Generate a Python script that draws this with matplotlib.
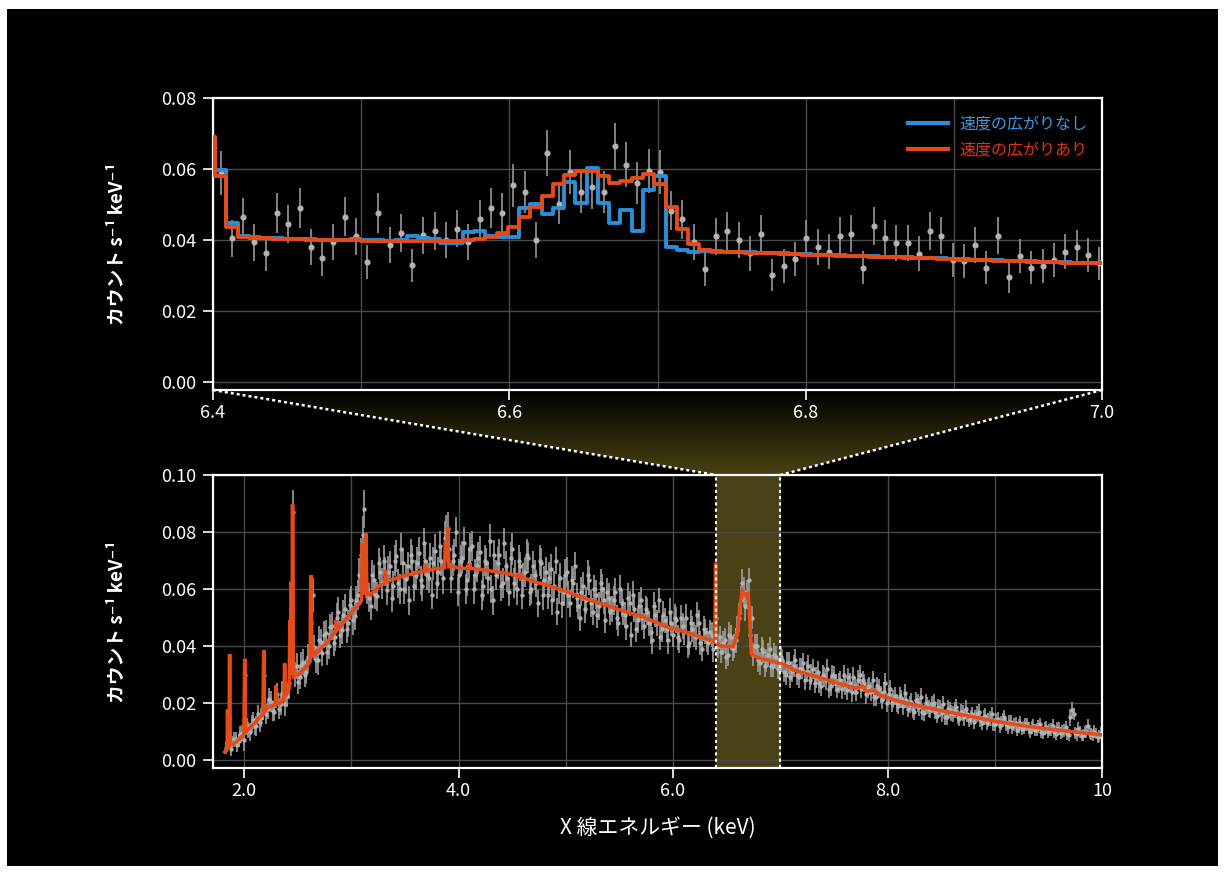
import numpy as np
import matplotlib
matplotlib.use("Agg")
import matplotlib.pyplot as plt
from matplotlib.patches import Rectangle, Polygon
from matplotlib.lines import Line2D
from matplotlib.ticker import FixedLocator, MultipleLocator
from matplotlib.colors import LinearSegmentedColormap

plt.rcParams['font.family'] = ['Noto Sans CJK JP', 'DejaVu Sans']

# ---------------- DATA: top panel (6.4-7.0 keV zoom) ----------------
top_energy = [
    6.4052, 6.4128, 6.4204, 6.4280, 6.4356, 6.4432, 6.4508, 6.4584, 6.4660, 6.4736,
    6.4812, 6.4888, 6.4964, 6.5040, 6.5116, 6.5192, 6.5268, 6.5344, 6.5420, 6.5496,
    6.5572, 6.5648, 6.5724, 6.5800, 6.5876, 6.5952, 6.6028, 6.6104, 6.6180, 6.6256,
    6.6332, 6.6408, 6.6484, 6.6560, 6.6636, 6.6712, 6.6788, 6.6864, 6.6940, 6.7016,
    6.7092, 6.7168, 6.7244, 6.7320, 6.7396, 6.7472, 6.7548, 6.7624, 6.7700, 6.7776,
    6.7852, 6.7928, 6.8004, 6.8080, 6.8156, 6.8232, 6.8308, 6.8384, 6.8460, 6.8536,
    6.8612, 6.8688, 6.8764, 6.8840, 6.8916, 6.8992, 6.9068, 6.9144, 6.9220, 6.9296,
    6.9372, 6.9448, 6.9524, 6.9600, 6.9676, 6.9752, 6.9828, 6.9904, 6.9980]
top_counts = [
    0.0589, 0.0405, 0.0464, 0.0393, 0.0363, 0.0477, 0.0445, 0.0490, 0.0381, 0.0348,
    0.0394, 0.0465, 0.0410, 0.0338, 0.0477, 0.0386, 0.0419, 0.0329, 0.0413, 0.0425,
    0.0400, 0.0432, 0.0395, 0.0458, 0.0490, 0.0476, 0.0554, 0.0535, 0.0399, 0.0644,
    0.0502, 0.0592, 0.0534, 0.0548, 0.0535, 0.0664, 0.0612, 0.0561, 0.0593, 0.0592,
    0.0483, 0.0459, 0.0394, 0.0317, 0.0411, 0.0425, 0.0399, 0.0362, 0.0418, 0.0301,
    0.0327, 0.0347, 0.0405, 0.0380, 0.0367, 0.0412, 0.0418, 0.0322, 0.0439, 0.0405,
    0.0392, 0.0392, 0.0361, 0.0425, 0.0412, 0.0343, 0.0341, 0.0386, 0.0322, 0.0412,
    0.0295, 0.0354, 0.0322, 0.0327, 0.0343, 0.0367, 0.0379, 0.0358, 0.0334]
top_err = [
    0.0062, 0.0052, 0.0055, 0.0051, 0.0049, 0.0056, 0.0054, 0.0057, 0.0050, 0.0048,
    0.0051, 0.0055, 0.0052, 0.0047, 0.0056, 0.0051, 0.0053, 0.0046, 0.0052, 0.0053,
    0.0051, 0.0053, 0.0051, 0.0055, 0.0057, 0.0056, 0.0060, 0.0059, 0.0051, 0.0065,
    0.0057, 0.0062, 0.0059, 0.0060, 0.0059, 0.0066, 0.0063, 0.0060, 0.0062, 0.0062,
    0.0056, 0.0055, 0.0051, 0.0046, 0.0052, 0.0053, 0.0051, 0.0049, 0.0052, 0.0045,
    0.0047, 0.0048, 0.0051, 0.0050, 0.0049, 0.0052, 0.0052, 0.0046, 0.0053, 0.0051,
    0.0050, 0.0050, 0.0049, 0.0053, 0.0052, 0.0048, 0.0048, 0.0050, 0.0046, 0.0052,
    0.0044, 0.0048, 0.0046, 0.0047, 0.0048, 0.0049, 0.0050, 0.0049, 0.0047]

# model bin centres: one bin before 6.4 and one after 7.0 added
top_model_energy = [6.3976] + top_energy + [7.0056]
model_broad = [
    0.0690,
    0.0579, 0.0438, 0.0408, 0.0406, 0.0405, 0.0404, 0.0403, 0.0402, 0.0401, 0.0400,
    0.0400, 0.0399, 0.0399, 0.0398, 0.0397, 0.0396, 0.0396, 0.0396, 0.0396, 0.0396,
    0.0397, 0.0398, 0.0400, 0.0403, 0.0409, 0.0419, 0.0438, 0.0466, 0.0494, 0.0525,
    0.0558, 0.0584, 0.0594, 0.0594, 0.0581, 0.0560, 0.0565, 0.0575, 0.0587, 0.0558,
    0.0494, 0.0430, 0.0389, 0.0372, 0.0367, 0.0366, 0.0365, 0.0364, 0.0363, 0.0362,
    0.0361, 0.0360, 0.0359, 0.0358, 0.0357, 0.0356, 0.0355, 0.0354, 0.0353, 0.0352,
    0.0351, 0.0350, 0.0349, 0.0348, 0.0347, 0.0346, 0.0345, 0.0344, 0.0343, 0.0342,
    0.0341, 0.0340, 0.0339, 0.0338, 0.0337, 0.0336, 0.0335, 0.0334, 0.0334,
    0.0333]
model_narrow = [
    0.0690,
    0.0597, 0.0447, 0.0410, 0.0408, 0.0406, 0.0405, 0.0404, 0.0403, 0.0402, 0.0401,
    0.0401, 0.0401, 0.0402, 0.0401, 0.0399, 0.0398, 0.0399, 0.0410, 0.0406, 0.0404,
    0.0392, 0.0392, 0.0423, 0.0425, 0.0410, 0.0409, 0.0409, 0.0491, 0.0501, 0.0474,
    0.0490, 0.0562, 0.0504, 0.0603, 0.0504, 0.0447, 0.0485, 0.0424, 0.0542, 0.0579,
    0.0381, 0.0372, 0.0367, 0.0370, 0.0368, 0.0367, 0.0366, 0.0365, 0.0364, 0.0363,
    0.0362, 0.0361, 0.0360, 0.0359, 0.0358, 0.0357, 0.0356, 0.0355, 0.0354, 0.0353,
    0.0352, 0.0351, 0.0350, 0.0349, 0.0348, 0.0347, 0.0346, 0.0345, 0.0344, 0.0343,
    0.0342, 0.0341, 0.0340, 0.0339, 0.0338, 0.0337, 0.0336, 0.0335, 0.0335,
    0.0334]
legend_labels = ['速度の広がりなし', '速度の広がりあり']

# ---------------- DATA: bottom panel (full band), two interleaved bin sets ----------------
bot_energy = [
    1.83, 1.86, 1.89, 1.92, 1.95, 1.98, 2.01, 2.04, 2.07, 2.10,
    2.13, 2.16, 2.19, 2.22, 2.25, 2.28, 2.31, 2.34, 2.37, 2.40,
    2.43, 2.46, 2.49, 2.52, 2.55, 2.58, 2.61, 2.64, 2.67, 2.70,
    2.73, 2.76, 2.79, 2.82, 2.85, 2.88, 2.91, 2.94, 2.97, 3.00,
    3.03, 3.06, 3.09, 3.12, 3.15, 3.18, 3.21, 3.24, 3.27, 3.30,
    3.33, 3.36, 3.39, 3.42, 3.45, 3.48, 3.51, 3.54, 3.57, 3.60,
    3.63, 3.66, 3.69, 3.72, 3.75, 3.78, 3.81, 3.84, 3.87, 3.90,
    3.93, 3.96, 3.99, 4.02, 4.05, 4.08, 4.11, 4.14, 4.17, 4.20,
    4.23, 4.26, 4.29, 4.32, 4.35, 4.38, 4.41, 4.44, 4.47, 4.50,
    4.53, 4.56, 4.59, 4.62, 4.65, 4.68, 4.71, 4.74, 4.77, 4.80,
    4.83, 4.86, 4.89, 4.92, 4.95, 4.98, 5.01, 5.04, 5.07, 5.10,
    5.13, 5.16, 5.19, 5.22, 5.25, 5.28, 5.31, 5.34, 5.37, 5.40,
    5.43, 5.46, 5.49, 5.52, 5.55, 5.58, 5.61, 5.64, 5.67, 5.70,
    5.73, 5.76, 5.79, 5.82, 5.85, 5.88, 5.91, 5.94, 5.97, 6.00,
    6.03, 6.06, 6.09, 6.12, 6.15, 6.18, 6.21, 6.24, 6.27, 6.30,
    6.33, 6.36, 6.39, 6.42, 6.45, 6.48, 6.51, 6.54, 6.57, 6.60,
    6.63, 6.66, 6.69, 6.72, 6.75, 6.78, 6.81, 6.84, 6.87, 6.90,
    6.93, 6.96, 6.99, 7.02, 7.05, 7.08, 7.11, 7.14, 7.17, 7.20,
    7.23, 7.26, 7.29, 7.32, 7.35, 7.38, 7.41, 7.44, 7.47, 7.50,
    7.53, 7.56, 7.59, 7.62, 7.65, 7.68, 7.71, 7.74, 7.77, 7.80,
    7.83, 7.86, 7.89, 7.92, 7.95, 7.98, 8.01, 8.04, 8.07, 8.10,
    8.13, 8.16, 8.19, 8.22, 8.25, 8.28, 8.31, 8.34, 8.37, 8.40,
    8.43, 8.46, 8.49, 8.52, 8.55, 8.58, 8.61, 8.64, 8.67, 8.70,
    8.73, 8.76, 8.79, 8.82, 8.85, 8.88, 8.91, 8.94, 8.97, 9.00,
    9.03, 9.06, 9.09, 9.12, 9.15, 9.18, 9.21, 9.24, 9.27, 9.30,
    9.33, 9.36, 9.39, 9.42, 9.45, 9.48, 9.51, 9.54, 9.57, 9.60,
    9.63, 9.66, 9.69, 9.72, 9.75, 9.78, 9.81, 9.84, 9.87, 9.90,
    9.93, 9.96, 9.99]
bot_counts = [
    0.0042, 0.0150, 0.0060, 0.0075, 0.0068, 0.0095, 0.0300, 0.0105, 0.0128, 0.0118,
    0.0160, 0.0148, 0.0300, 0.0178, 0.0205, 0.0170, 0.0230, 0.0195, 0.0260, 0.0225,
    0.0480, 0.0870, 0.0330, 0.0290, 0.0345, 0.0310, 0.0400, 0.0580, 0.0350, 0.0420,
    0.0375, 0.0445, 0.0400, 0.0470, 0.0430, 0.0520, 0.0455, 0.0530, 0.0480, 0.0560,
    0.0505, 0.0580, 0.0720, 0.0880, 0.0600, 0.0540, 0.0630, 0.0575, 0.0660, 0.0700,
    0.0595, 0.0680, 0.0610, 0.0715, 0.0600, 0.0690, 0.0635, 0.0560, 0.0700, 0.0650,
    0.0725, 0.0610, 0.0700, 0.0640, 0.0580, 0.0735, 0.0660, 0.0700, 0.0780, 0.0810,
    0.0640, 0.0720, 0.0590, 0.0700, 0.0760, 0.0630, 0.0740, 0.0600, 0.0680, 0.0730,
    0.0610, 0.0690, 0.0770, 0.0560, 0.0650, 0.0720, 0.0620, 0.0680, 0.0590, 0.0740,
    0.0650, 0.0700, 0.0580, 0.0660, 0.0710, 0.0600, 0.0650, 0.0550, 0.0690, 0.0630,
    0.0580, 0.0670, 0.0610, 0.0520, 0.0640, 0.0590, 0.0660, 0.0550, 0.0620, 0.0570,
    0.0500, 0.0610, 0.0560, 0.0630, 0.0520, 0.0580, 0.0540, 0.0600, 0.0490, 0.0570,
    0.0530, 0.0590, 0.0480, 0.0550, 0.0510, 0.0570, 0.0440, 0.0530, 0.0490, 0.0560,
    0.0470, 0.0520, 0.0450, 0.0540, 0.0480, 0.0430, 0.0510, 0.0460, 0.0520, 0.0440,
    0.0490, 0.0420, 0.0470, 0.0500, 0.0410, 0.0460, 0.0430, 0.0480, 0.0390, 0.0450,
    0.0410, 0.0440, 0.0470, 0.0400, 0.0380, 0.0420, 0.0370, 0.0430, 0.0400, 0.0460,
    0.0560, 0.0590, 0.0580, 0.0440, 0.0370, 0.0400, 0.0340, 0.0380, 0.0350, 0.0390,
    0.0330, 0.0360, 0.0320, 0.0350, 0.0300, 0.0340, 0.0310, 0.0350, 0.0290, 0.0320,
    0.0280, 0.0330, 0.0300, 0.0270, 0.0310, 0.0260, 0.0290, 0.0320, 0.0260, 0.0295,
    0.0250, 0.0280, 0.0300, 0.0245, 0.0270, 0.0290, 0.0240, 0.0300, 0.0280, 0.0230,
    0.0260, 0.0280, 0.0220, 0.0250, 0.0210, 0.0270, 0.0230, 0.0200, 0.0225, 0.0190,
    0.0215, 0.0235, 0.0180, 0.0205, 0.0170, 0.0200, 0.0220, 0.0165, 0.0190, 0.0175,
    0.0200, 0.0155, 0.0180, 0.0195, 0.0150, 0.0175, 0.0160, 0.0185, 0.0145, 0.0165,
    0.0180, 0.0140, 0.0160, 0.0150, 0.0170, 0.0130, 0.0155, 0.0140, 0.0160, 0.0125,
    0.0145, 0.0130, 0.0150, 0.0115, 0.0135, 0.0125, 0.0105, 0.0130, 0.0115, 0.0125,
    0.0100, 0.0120, 0.0108, 0.0125, 0.0095, 0.0115, 0.0105, 0.0120, 0.0090, 0.0110,
    0.0100, 0.0115, 0.0088, 0.0175, 0.0095, 0.0110, 0.0085, 0.0098, 0.0120, 0.0090,
    0.0100, 0.0080, 0.0095]
bot_err = [
    0.0020, 0.0033, 0.0023, 0.0025, 0.0024, 0.0028, 0.0037, 0.0029, 0.0031, 0.0030,
    0.0034, 0.0033, 0.0044, 0.0035, 0.0037, 0.0034, 0.0040, 0.0037, 0.0042, 0.0040,
    0.0055, 0.0079, 0.0044, 0.0042, 0.0045, 0.0043, 0.0048, 0.0059, 0.0045, 0.0050,
    0.0044, 0.0047, 0.0045, 0.0048, 0.0046, 0.0051, 0.0047, 0.0051, 0.0048, 0.0052,
    0.0050, 0.0052, 0.0059, 0.0066, 0.0052, 0.0050, 0.0053, 0.0051, 0.0054, 0.0055,
    0.0051, 0.0055, 0.0052, 0.0056, 0.0051, 0.0055, 0.0053, 0.0050, 0.0055, 0.0053,
    0.0056, 0.0052, 0.0055, 0.0053, 0.0051, 0.0057, 0.0054, 0.0055, 0.0058, 0.0061,
    0.0053, 0.0056, 0.0051, 0.0055, 0.0057, 0.0053, 0.0056, 0.0052, 0.0054, 0.0056,
    0.0052, 0.0055, 0.0058, 0.0050, 0.0053, 0.0056, 0.0052, 0.0054, 0.0051, 0.0056,
    0.0053, 0.0055, 0.0051, 0.0053, 0.0055, 0.0051, 0.0053, 0.0048, 0.0054, 0.0052,
    0.0051, 0.0054, 0.0052, 0.0047, 0.0053, 0.0051, 0.0054, 0.0048, 0.0052, 0.0050,
    0.0046, 0.0051, 0.0048, 0.0052, 0.0047, 0.0050, 0.0048, 0.0051, 0.0046, 0.0050,
    0.0047, 0.0050, 0.0045, 0.0048, 0.0046, 0.0050, 0.0043, 0.0047, 0.0045, 0.0048,
    0.0045, 0.0047, 0.0044, 0.0048, 0.0045, 0.0043, 0.0047, 0.0045, 0.0047, 0.0044,
    0.0046, 0.0043, 0.0045, 0.0046, 0.0042, 0.0045, 0.0043, 0.0045, 0.0041, 0.0044,
    0.0042, 0.0043, 0.0045, 0.0042, 0.0041, 0.0043, 0.0040, 0.0043, 0.0042, 0.0044,
    0.0050, 0.0051, 0.0051, 0.0044, 0.0041, 0.0042, 0.0040, 0.0041, 0.0040, 0.0042,
    0.0039, 0.0040, 0.0037, 0.0040, 0.0036, 0.0039, 0.0037, 0.0040, 0.0036, 0.0037,
    0.0035, 0.0037, 0.0036, 0.0034, 0.0036, 0.0034, 0.0035, 0.0036, 0.0034, 0.0035,
    0.0033, 0.0034, 0.0035, 0.0033, 0.0034, 0.0035, 0.0032, 0.0035, 0.0034, 0.0032,
    0.0033, 0.0034, 0.0031, 0.0033, 0.0031, 0.0034, 0.0032, 0.0030, 0.0032, 0.0030,
    0.0031, 0.0032, 0.0029, 0.0031, 0.0029, 0.0030, 0.0031, 0.0028, 0.0030, 0.0029,
    0.0030, 0.0026, 0.0029, 0.0030, 0.0026, 0.0029, 0.0028, 0.0029, 0.0025, 0.0028,
    0.0029, 0.0025, 0.0026, 0.0025, 0.0028, 0.0024, 0.0026, 0.0025, 0.0026, 0.0023,
    0.0025, 0.0024, 0.0025, 0.0023, 0.0024, 0.0023, 0.0022, 0.0024, 0.0023, 0.0024,
    0.0022, 0.0023, 0.0022, 0.0023, 0.0021, 0.0023, 0.0022, 0.0023, 0.0021, 0.0022,
    0.0022, 0.0023, 0.0021, 0.0030, 0.0021, 0.0022, 0.0020, 0.0021, 0.0023, 0.0021,
    0.0022, 0.0020, 0.0021]

bot_energy_b = [
    1.845, 1.875, 1.905, 1.935, 1.965, 1.995, 2.025, 2.055, 2.085, 2.115,
    2.145, 2.175, 2.205, 2.235, 2.265, 2.295, 2.325, 2.355, 2.385, 2.415,
    2.445, 2.475, 2.505, 2.535, 2.565, 2.595, 2.625, 2.655, 2.685, 2.715,
    2.745, 2.775, 2.805, 2.835, 2.865, 2.895, 2.925, 2.955, 2.985, 3.015,
    3.045, 3.075, 3.105, 3.135, 3.165, 3.195, 3.225, 3.255, 3.285, 3.315,
    3.345, 3.375, 3.405, 3.435, 3.465, 3.495, 3.525, 3.555, 3.585, 3.615,
    3.645, 3.675, 3.705, 3.735, 3.765, 3.795, 3.825, 3.855, 3.885, 3.915,
    3.945, 3.975, 4.005, 4.035, 4.065, 4.095, 4.125, 4.155, 4.185, 4.215,
    4.245, 4.275, 4.305, 4.335, 4.365, 4.395, 4.425, 4.455, 4.485, 4.515,
    4.545, 4.575, 4.605, 4.635, 4.665, 4.695, 4.725, 4.755, 4.785, 4.815,
    4.845, 4.875, 4.905, 4.935, 4.965, 4.995, 5.025, 5.055, 5.085, 5.115,
    5.145, 5.175, 5.205, 5.235, 5.265, 5.295, 5.325, 5.355, 5.385, 5.415,
    5.445, 5.475, 5.505, 5.535, 5.565, 5.595, 5.625, 5.655, 5.685, 5.715,
    5.745, 5.775, 5.805, 5.835, 5.865, 5.895, 5.925, 5.955, 5.985, 6.015,
    6.045, 6.075, 6.105, 6.135, 6.165, 6.195, 6.225, 6.255, 6.285, 6.315,
    6.345, 6.375, 6.405, 6.435, 6.465, 6.495, 6.525, 6.555, 6.585, 6.615,
    6.645, 6.675, 6.705, 6.735, 6.765, 6.795, 6.825, 6.855, 6.885, 6.915,
    6.945, 6.975, 7.005, 7.035, 7.065, 7.095, 7.125, 7.155, 7.185, 7.215,
    7.245, 7.275, 7.305, 7.335, 7.365, 7.395, 7.425, 7.455, 7.485, 7.515,
    7.545, 7.575, 7.605, 7.635, 7.665, 7.695, 7.725, 7.755, 7.785, 7.815,
    7.845, 7.875, 7.905, 7.935, 7.965, 7.995, 8.025, 8.055, 8.085, 8.115,
    8.145, 8.175, 8.205, 8.235, 8.265, 8.295, 8.325, 8.355, 8.385, 8.415,
    8.445, 8.475, 8.505, 8.535, 8.565, 8.595, 8.625, 8.655, 8.685, 8.715,
    8.745, 8.775, 8.805, 8.835, 8.865, 8.895, 8.925, 8.955, 8.985, 9.015,
    9.045, 9.075, 9.105, 9.135, 9.165, 9.195, 9.225, 9.255, 9.285, 9.315,
    9.345, 9.375, 9.405, 9.435, 9.465, 9.495, 9.525, 9.555, 9.585, 9.615,
    9.645, 9.675, 9.705, 9.735, 9.765, 9.795, 9.825, 9.855, 9.885, 9.915,
    9.945, 9.975]
bot_counts_b = [
    0.0060, 0.0038, 0.0072, 0.0052, 0.0090, 0.0070, 0.0118, 0.0098, 0.0140, 0.0120,
    0.0132, 0.0185, 0.0160, 0.0215, 0.0172, 0.0222, 0.0180, 0.0235, 0.0195, 0.0270,
    0.0620, 0.0300, 0.0275, 0.0335, 0.0300, 0.0360, 0.0480, 0.0395, 0.0350, 0.0415,
    0.0440, 0.0380, 0.0465, 0.0410, 0.0500, 0.0440, 0.0510, 0.0460, 0.0545, 0.0490,
    0.0560, 0.0650, 0.0790, 0.0620, 0.0570, 0.0650, 0.0580, 0.0690, 0.0620, 0.0660,
    0.0660, 0.0570, 0.0700, 0.0620, 0.0740, 0.0600, 0.0680, 0.0720, 0.0610, 0.0690,
    0.0630, 0.0760, 0.0650, 0.0710, 0.0690, 0.0620, 0.0750, 0.0640, 0.0800, 0.0740,
    0.0700, 0.0800, 0.0650, 0.0710, 0.0600, 0.0690, 0.0750, 0.0650, 0.0710, 0.0580,
    0.0700, 0.0640, 0.0600, 0.0720, 0.0690, 0.0610, 0.0760, 0.0640, 0.0710, 0.0620,
    0.0600, 0.0680, 0.0640, 0.0720, 0.0590, 0.0680, 0.0620, 0.0700, 0.0580, 0.0660,
    0.0640, 0.0560, 0.0700, 0.0600, 0.0550, 0.0650, 0.0580, 0.0630, 0.0680, 0.0540,
    0.0590, 0.0530, 0.0650, 0.0550, 0.0600, 0.0510, 0.0620, 0.0560, 0.0590, 0.0520,
    0.0560, 0.0500, 0.0600, 0.0520, 0.0470, 0.0550, 0.0580, 0.0460, 0.0540, 0.0500,
    0.0530, 0.0480, 0.0420, 0.0510, 0.0560, 0.0460, 0.0490, 0.0420, 0.0480, 0.0500,
    0.0430, 0.0500, 0.0450, 0.0400, 0.0480, 0.0440, 0.0510, 0.0410, 0.0460, 0.0420,
    0.0450, 0.0390, 0.0500, 0.0430, 0.0410, 0.0360, 0.0440, 0.0390, 0.0420, 0.0500,
    0.0620, 0.0540, 0.0630, 0.0500, 0.0400, 0.0350, 0.0390, 0.0330, 0.0370, 0.0330,
    0.0370, 0.0320, 0.0360, 0.0310, 0.0340, 0.0290, 0.0330, 0.0300, 0.0320, 0.0340,
    0.0310, 0.0280, 0.0320, 0.0290, 0.0270, 0.0300, 0.0280, 0.0250, 0.0300, 0.0270,
    0.0270, 0.0250, 0.0260, 0.0290, 0.0240, 0.0260, 0.0280, 0.0250, 0.0270, 0.0250,
    0.0240, 0.0220, 0.0260, 0.0230, 0.0240, 0.0200, 0.0250, 0.0215, 0.0200, 0.0225,
    0.0190, 0.0210, 0.0195, 0.0175, 0.0210, 0.0185, 0.0170, 0.0200, 0.0180, 0.0195,
    0.0170, 0.0185, 0.0165, 0.0150, 0.0180, 0.0165, 0.0175, 0.0150, 0.0170, 0.0150,
    0.0160, 0.0150, 0.0135, 0.0160, 0.0140, 0.0150, 0.0130, 0.0145, 0.0125, 0.0140,
    0.0120, 0.0140, 0.0125, 0.0135, 0.0115, 0.0130, 0.0120, 0.0110, 0.0125, 0.0112,
    0.0115, 0.0105, 0.0118, 0.0100, 0.0112, 0.0098, 0.0108, 0.0100, 0.0112, 0.0095,
    0.0105, 0.0092, 0.0150, 0.0160, 0.0090, 0.0098, 0.0088, 0.0100, 0.0093, 0.0088,
    0.0093, 0.0085]
bot_err_b = bot_err[1:]

bot_model_energy = [
    1.820, 1.835, 1.842, 1.846, 1.850, 1.860, 1.865, 1.870, 1.900, 1.950,
    1.998, 2.006, 2.014, 2.050, 2.100, 2.140, 2.176, 2.183, 2.190, 2.220,
    2.290, 2.298, 2.306, 2.340, 2.372, 2.378, 2.385, 2.420, 2.428, 2.436,
    2.440, 2.448, 2.452, 2.460, 2.520, 2.600, 2.615, 2.622, 2.632, 2.646,
    2.770, 2.850, 2.858, 2.866, 2.895, 3.020, 3.080, 3.095, 3.103, 3.112,
    3.130, 3.136, 3.145, 3.175, 3.270, 3.310, 3.318, 3.326, 3.455, 3.640,
    3.680, 3.688, 3.696, 3.830, 3.870, 3.878, 3.886, 3.898, 3.910, 3.940,
    4.014, 4.100, 4.107, 4.114, 4.230, 4.450, 4.570, 4.580, 4.590, 4.700,
    4.820, 5.010, 5.130, 5.320, 5.510, 5.600, 5.630, 5.690, 5.940, 6.250,
    6.390, 6.397, 6.405, 6.440, 6.560, 6.600, 6.630, 6.645, 6.665, 6.685,
    6.700, 6.715, 6.730, 6.800, 7.000, 7.110, 7.120, 7.465, 7.650, 7.710,
    7.770, 7.800, 7.870, 7.930, 8.085, 8.400, 8.710, 9.020, 9.330, 9.640,
    10.000]
bot_model_counts = [
    0.0028, 0.0034, 0.0040, 0.0177, 0.0046, 0.0050, 0.0372, 0.0058, 0.0055, 0.0072,
    0.0090, 0.0355, 0.0098, 0.0112, 0.0130, 0.0148, 0.0162, 0.0386, 0.0170, 0.0185,
    0.0195, 0.0259, 0.0197, 0.0200, 0.0215, 0.0339, 0.0222, 0.0250, 0.0491, 0.0300,
    0.0626, 0.0400, 0.0897, 0.0292, 0.0304, 0.0336, 0.0345, 0.0649, 0.0420, 0.0368,
    0.0410, 0.0450, 0.0490, 0.0455, 0.0468, 0.0526, 0.0550, 0.0560, 0.0760, 0.0580,
    0.0600, 0.0795, 0.0580, 0.0579, 0.0614, 0.0620, 0.0667, 0.0625, 0.0643, 0.0660,
    0.0663, 0.0688, 0.0665, 0.0673, 0.0675, 0.0766, 0.0700, 0.0819, 0.0678, 0.0679,
    0.0673, 0.0672, 0.0692, 0.0672, 0.0667, 0.0655, 0.0643, 0.0650, 0.0641, 0.0626,
    0.0614, 0.0591, 0.0573, 0.0550, 0.0526, 0.0515, 0.0512, 0.0507, 0.0468, 0.0433,
    0.0415, 0.0692, 0.0410, 0.0400, 0.0398, 0.0440, 0.0555, 0.0594, 0.0585, 0.0575,
    0.0588, 0.0500, 0.0372, 0.0358, 0.0339, 0.0322, 0.0316, 0.0278, 0.0257, 0.0253,
    0.0258, 0.0241, 0.0245, 0.0228, 0.0208, 0.0181, 0.0158, 0.0135, 0.0117, 0.0103,
    0.0088]

top_xticks = [6.4, 6.6, 6.8, 7.0]
top_xticklabels = ['6.4', '6.6', '6.8', '7.0']
top_yticks = [0.00, 0.02, 0.04, 0.06, 0.08]
top_yticklabels = ['0.00', '0.02', '0.04', '0.06', '0.08']
bot_xticks = [2, 4, 6, 8, 10]
bot_xticklabels = ['2.0', '4.0', '6.0', '8.0', '10']
bot_yticks = [0.00, 0.02, 0.04, 0.06, 0.08, 0.10]
bot_yticklabels = ['0.00', '0.02', '0.04', '0.06', '0.08', '0.10']
ylabel_text = 'カウント s⁻¹ keV⁻¹'
xlabel_text = 'X 線エネルギー (keV)'
zoom_range = [6.4, 7.0]

# ---------------- STYLE ----------------
C_BLUE = '#2b8fd8'
C_RED = '#e64a19'
C_BLUE_TXT = '#3a9de4'
C_RED_TXT = '#e8301a'
C_OLIVE = '#4a4214'
C_GRID = '#4a4a4a'
C_DATA = '#b4b4b4'
C_ERR = '#8c8c8c'
C_ERR_BOT = '#9c9c9c'

W, H = 1225, 872
fig = plt.figure(figsize=(W / 100, H / 100), dpi=100, facecolor='white')

bg = fig.add_axes([0, 0, 1, 1], zorder=-5)
bg.set_xlim(0, W)
bg.set_ylim(H, 0)
bg.axis('off')
bg.add_patch(Rectangle((7, 9), 1211, 857, facecolor='black', edgecolor='none'))

ax_top = fig.add_axes([213 / W, 1 - 390 / H, 889 / W, 292 / H])
ax_bot = fig.add_axes([213 / W, 1 - 768 / H, 889 / W, 293 / H])

for ax in (ax_top, ax_bot):
    ax.set_facecolor('black')
    for s in ax.spines.values():
        s.set_color('white')
        s.set_linewidth(1.6)
    ax.tick_params(which='major', colors='white', direction='out', length=7,
                   width=1.2, labelsize=13)
    ax.tick_params(which='minor', length=0)
    ax.tick_params(axis='y', pad=5)
    ax.tick_params(axis='x', pad=3)
    ax.grid(True, which='both', color=C_GRID, lw=1.0)
    ax.set_axisbelow(True)

# ---- top panel ----
ax_top.errorbar(top_energy, top_counts, yerr=top_err, fmt='o', ms=3.4,
                color=C_DATA, ecolor=C_ERR, elinewidth=1.3, capsize=0, zorder=2)
ax_top.step(top_model_energy, model_narrow, where='mid', color=C_BLUE, lw=2.8,
            zorder=3, label=legend_labels[0])
ax_top.step(top_model_energy, model_broad, where='mid', color=C_RED, lw=2.8,
            zorder=4, label=legend_labels[1])
ax_top.set_xlim(zoom_range[0], zoom_range[1])
ax_top.set_ylim(-0.00225, 0.08)
ax_top.xaxis.set_major_locator(FixedLocator(top_xticks))
ax_top.set_xticklabels(top_xticklabels)
ax_top.xaxis.set_minor_locator(MultipleLocator(0.1))
ax_top.yaxis.set_major_locator(FixedLocator(top_yticks))
ax_top.set_yticklabels(top_yticklabels)
ax_top.set_ylabel(ylabel_text, fontsize=13.5, fontweight='bold', color='white',
                  va='center')
ax_top.yaxis.set_label_coords(-0.107, 0.5)

leg = ax_top.legend(loc='upper left', bbox_to_anchor=(0.782, 0.941), frameon=False,
                    fontsize=11.5, handlelength=2.5, handletextpad=0.7,
                    borderpad=0, borderaxespad=0, labelspacing=0.58)
for t, c in zip(leg.get_texts(), [C_BLUE_TXT, C_RED_TXT]):
    t.set_color(c)
for h in leg.get_lines():
    h.set_linewidth(3.0)

# ---- bottom panel ----
ax_bot.axvspan(zoom_range[0], zoom_range[1], color=C_OLIVE, zorder=0.3, lw=0)
for xv in zoom_range:
    ax_bot.axvline(xv, color='white', lw=1.5, ls=(0, (1.5, 1.5)), zorder=5)
n_a = min(len(bot_energy), len(bot_counts), len(bot_err))
n_b = min(len(bot_energy_b), len(bot_counts_b), len(bot_err_b))
ax_bot.errorbar(bot_energy[:n_a], bot_counts[:n_a], yerr=bot_err[:n_a], fmt='o', ms=2.2,
                color=C_DATA, ecolor=C_ERR_BOT, elinewidth=1.35, capsize=0, zorder=2,
                alpha=0.9)
ax_bot.errorbar(bot_energy_b[:n_b], bot_counts_b[:n_b], yerr=bot_err_b[:n_b], fmt='o',
                ms=2.2, color=C_DATA, ecolor=C_ERR_BOT, elinewidth=1.35, capsize=0,
                zorder=2, alpha=0.9)
ax_bot.plot(bot_model_energy, bot_model_counts, color=C_RED, lw=2.6, zorder=4,
            solid_joinstyle='miter')
ax_bot.set_xlim(1.71, 10.0)
ax_bot.set_ylim(-0.0028, 0.10)
ax_bot.xaxis.set_major_locator(FixedLocator(bot_xticks))
ax_bot.set_xticklabels(bot_xticklabels)
ax_bot.xaxis.set_minor_locator(MultipleLocator(1))
ax_bot.yaxis.set_major_locator(FixedLocator(bot_yticks))
ax_bot.set_yticklabels(bot_yticklabels)
ax_bot.set_ylabel(ylabel_text, fontsize=13.5, fontweight='bold', color='white',
                  va='center')
ax_bot.yaxis.set_label_coords(-0.107, 0.5)
ax_bot.set_xlabel(xlabel_text, fontsize=15, color='white', va='center')
ax_bot.xaxis.set_label_coords(0.5, -0.205)

# ---- zoom connectors and gradient ----
inv = bg.transData.inverted()
tl = inv.transform(ax_top.transAxes.transform((0, 0)))
tr = inv.transform(ax_top.transAxes.transform((1, 0)))
bl = inv.transform(ax_bot.transData.transform((zoom_range[0], 0.10)))
br = inv.transform(ax_bot.transData.transform((zoom_range[1], 0.10)))

cmap = LinearSegmentedColormap.from_list('fade', ['#000000', C_OLIVE])
grad = np.linspace(0, 1, 256).reshape(-1, 1)
im = bg.imshow(grad, cmap=cmap, aspect='auto', origin='upper',
               extent=[tl[0], tr[0], bl[1], tl[1]], zorder=1, interpolation='bilinear')
poly = Polygon([tl, tr, br, bl], closed=True, transform=bg.transData)
im.set_clip_path(poly)
bg.set_xlim(0, W)
bg.set_ylim(H, 0)

for a, b in ((tl, bl), (tr, br)):
    bg.add_line(Line2D([a[0], b[0]], [a[1], b[1]], color='white', lw=1.8,
                       ls=(0, (1.2, 1.2)), zorder=3))

fig.savefig('out.png', dpi=100, facecolor='white')
